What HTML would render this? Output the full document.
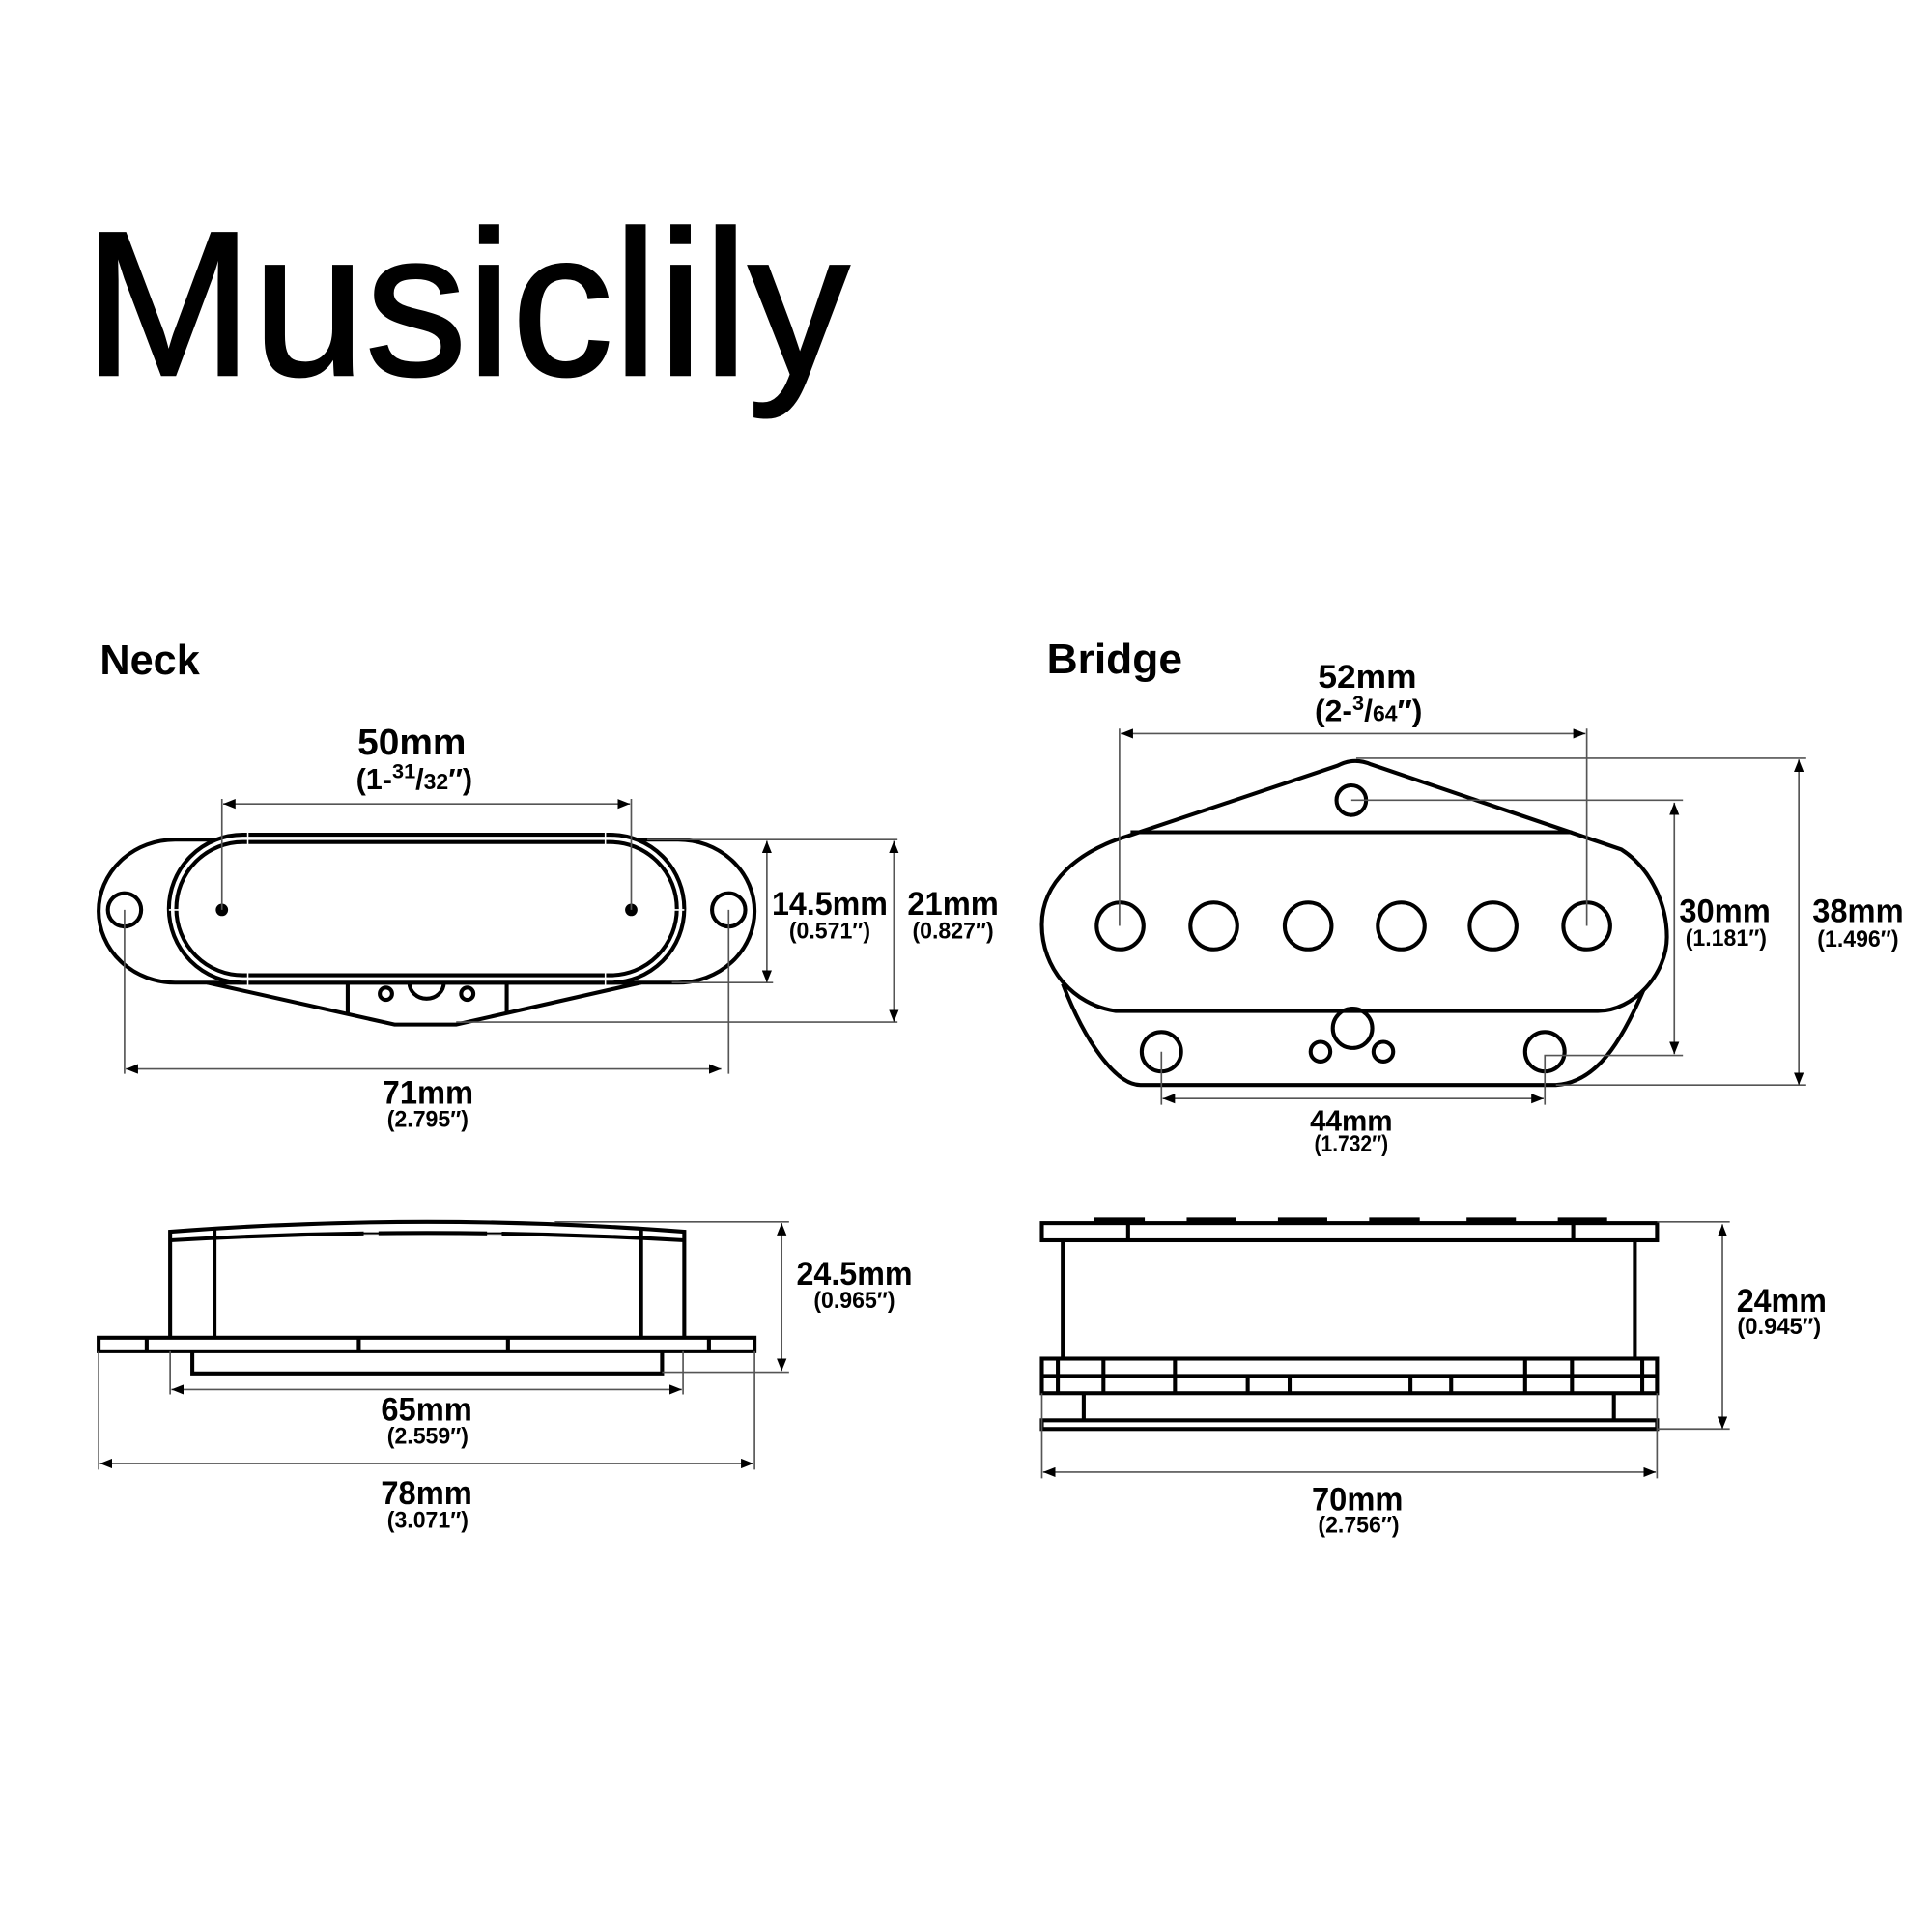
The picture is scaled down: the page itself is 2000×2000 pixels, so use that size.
<!DOCTYPE html>
<html><head><meta charset="utf-8"><title>Musiclily</title>
<style>html,body{margin:0;padding:0;background:#fff}svg{display:block}
text{font-family:"Liberation Sans",sans-serif;fill:#000;text-anchor:middle}
.a{font-weight:bold;font-size:27px}.b{font-weight:bold;font-size:19px}
.s{fill:none;stroke:#000;stroke-width:3.2}.d{stroke:#555;stroke-width:1.3;fill:none}
.n{fill:#fff;stroke:#000;stroke-width:3.2}</style></head>
<body>
<svg xmlns="http://www.w3.org/2000/svg" width="2000" height="2000" viewBox="0 0 1567 1567">
<defs><marker id="m" markerUnits="userSpaceOnUse" markerWidth="11" markerHeight="8" refX="10" refY="4" orient="auto-start-reverse"><path d="M0,0L10,4L0,8Z" fill="#000"/></marker></defs>
<rect width="1567" height="1567" fill="#fff"/>
<text x="68" y="304" style="text-anchor:start;font-size:167px;stroke:#000;stroke-width:2" textLength="621" lengthAdjust="spacingAndGlyphs">Musiclily</text>
<text x="81" y="547" style="text-anchor:start;font-weight:bold;font-size:34px" textLength="81" lengthAdjust="spacingAndGlyphs">Neck</text>
<text x="849" y="546" style="text-anchor:start;font-weight:bold;font-size:34px" textLength="110" lengthAdjust="spacingAndGlyphs">Bridge</text>

<!-- Neck top -->
<path class="n" d="M168,797L320,831L370,831L520,797Z"/>
<path class="s" d="M282,797V823M411,797V821"/>
<path class="s" d="M332,797A14,13 0 0 0 360,797"/>
<circle class="s" cx="313" cy="806" r="5"/><circle class="s" cx="379" cy="806" r="5"/>
<rect class="n" x="80" y="681" width="532" height="116" rx="62" ry="58"/>
<circle class="s" cx="101" cy="738" r="13.5"/><circle class="s" cx="591" cy="738" r="13.5"/>
<rect class="n" x="137" y="677" width="418" height="120" rx="60" ry="60"/>
<rect class="s" x="143" y="683" width="406" height="108" rx="54" ry="54"/>
<path d="M201,675v10M491,675v10M201,789v10M491,789v10M137,738h8M547,738h8" stroke="#fff" stroke-width="1.2"/>
<circle cx="180" cy="738" r="5"/><circle cx="512" cy="738" r="5"/>
<g class="d">
<path d="M180,648V738M512,648V738M101,738V871M591,738V871M525,681H728M545,797H627M370,829H728"/>
<line x1="181" y1="652" x2="511" y2="652" marker-start="url(#m)" marker-end="url(#m)"/>
<line x1="622" y1="682" x2="622" y2="797" marker-start="url(#m)" marker-end="url(#m)"/>
<line x1="725" y1="682" x2="725" y2="829" marker-start="url(#m)" marker-end="url(#m)"/>
<line x1="102" y1="867" x2="585" y2="867" marker-start="url(#m)" marker-end="url(#m)"/>
</g>
<text class="a" x="334" y="612" style="font-size:30px" textLength="88" lengthAdjust="spacingAndGlyphs">50mm</text>
<text class="b" x="336" y="640" style="font-size:24px">(1-<tspan font-size="17" dy="-9">31</tspan><tspan dy="9">/</tspan><tspan font-size="18">32</tspan>″)</text>
<text class="a" x="673" y="742" textLength="94" lengthAdjust="spacingAndGlyphs">14.5mm</text>
<text class="b" x="673" y="761" textLength="66" lengthAdjust="spacingAndGlyphs">(0.571″)</text>
<text class="a" x="773" y="742" textLength="74" lengthAdjust="spacingAndGlyphs">21mm</text>
<text class="b" x="773" y="761" textLength="66" lengthAdjust="spacingAndGlyphs">(0.827″)</text>
<text class="a" x="347" y="895" textLength="74" lengthAdjust="spacingAndGlyphs">71mm</text>
<text class="b" x="347" y="914" textLength="66" lengthAdjust="spacingAndGlyphs">(2.795″)</text>

<!-- Bridge top -->
<path class="s" d="M862,798C880,845 905,880 925,880L1262,880C1295,878 1315,845 1333,803"/>
<path class="n" d="M1085,621Q1098,614 1112,620L1315,689C1340,705 1352,735 1352,760C1352,790 1325,820 1296,820L905,820C870,815 845,785 845,750C845,715 875,690 915,678Z"/>
<path class="s" d="M917,675H1275"/>
<circle class="s" cx="1096" cy="649" r="12"/>
<g class="s"><circle cx="908.5" cy="751" r="19"/><circle cx="984.5" cy="751" r="19"/><circle cx="1061" cy="751" r="19"/><circle cx="1136.5" cy="751" r="19"/><circle cx="1211" cy="751" r="19"/><circle cx="1287" cy="751" r="19"/>
<circle cx="942" cy="853" r="16"/><circle cx="1253" cy="853" r="16"/><circle cx="1097" cy="834" r="16"/><circle cx="1071" cy="853" r="8"/><circle cx="1122" cy="853" r="8"/></g>
<g class="d">
<path d="M908,591V751M1287,591V751M1100,615H1465M1096,649H1365M1253,896V856H1365M1262,880H1465M942,853V896"/>
<line x1="909" y1="595" x2="1286" y2="595" marker-start="url(#m)" marker-end="url(#m)"/>
<line x1="1459" y1="616" x2="1459" y2="880" marker-start="url(#m)" marker-end="url(#m)"/>
<line x1="1358" y1="651" x2="1358" y2="855" marker-start="url(#m)" marker-end="url(#m)"/>
<line x1="943" y1="891" x2="1252" y2="891" marker-start="url(#m)" marker-end="url(#m)"/>
</g>
<text class="a" x="1109" y="558" textLength="80" lengthAdjust="spacingAndGlyphs">52mm</text>
<text class="b" x="1110" y="585" style="font-size:25px">(2-<tspan font-size="17" dy="-9">3</tspan><tspan dy="9">/</tspan><tspan font-size="18">64</tspan>″)</text>
<text class="a" x="1399" y="748" textLength="74" lengthAdjust="spacingAndGlyphs">30mm</text>
<text class="b" x="1400" y="767" textLength="66" lengthAdjust="spacingAndGlyphs">(1.181″)</text>
<text class="a" x="1507" y="748" textLength="74" lengthAdjust="spacingAndGlyphs">38mm</text>
<text class="b" x="1507" y="768" textLength="66" lengthAdjust="spacingAndGlyphs">(1.496″)</text>
<text class="a" x="1096" y="917" style="font-size:24px" textLength="67" lengthAdjust="spacingAndGlyphs">44mm</text>
<text class="b" x="1096" y="934" textLength="60" lengthAdjust="spacingAndGlyphs">(1.732″)</text>

<!-- Neck side -->
<path class="s" d="M138,1085V999Q346,983 555,999V1085"/>
<path class="s" d="M138,1006Q346,994 555,1006"/>
<path class="s" d="M174,1085V996M520,1085V996"/>
<rect class="s" x="80" y="1085" width="532" height="11"/>
<path class="s" d="M119,1085V1096M291,1085V1096M412,1085V1096M575,1085V1096"/>
<path class="s" d="M156,1096V1114H537V1096"/>
<path d="M295,999h12M295,1001.5h12M395,999h12M395,1001.5h12" stroke="#fff" stroke-width="0.9"/>
<g class="d">
<path d="M450,991H640M537,1113H640M138,1096V1131M554,1096V1131M80,1096V1192M612,1096V1192"/>
<line x1="634" y1="992" x2="634" y2="1112" marker-start="url(#m)" marker-end="url(#m)"/>
<line x1="139" y1="1127" x2="553" y2="1127" marker-start="url(#m)" marker-end="url(#m)"/>
<line x1="81" y1="1187" x2="611" y2="1187" marker-start="url(#m)" marker-end="url(#m)"/>
</g>
<text class="a" x="693" y="1042" textLength="94" lengthAdjust="spacingAndGlyphs">24.5mm</text>
<text class="b" x="693" y="1061" textLength="66" lengthAdjust="spacingAndGlyphs">(0.965″)</text>
<text class="a" x="346" y="1152" textLength="74" lengthAdjust="spacingAndGlyphs">65mm</text>
<text class="b" x="347" y="1171" textLength="66" lengthAdjust="spacingAndGlyphs">(2.559″)</text>
<text class="a" x="346" y="1220" textLength="74" lengthAdjust="spacingAndGlyphs">78mm</text>
<text class="b" x="347" y="1239" textLength="66" lengthAdjust="spacingAndGlyphs">(3.071″)</text>

<!-- Bridge side -->
<path d="M888,988h40v3h-40zM963,988h39v3h-39zM1037,988h39v3h-39zM1111,988h40v3h-40zM1190,988h39v3h-39zM1264,988h39v3h-39z" stroke="#000" stroke-width="1"/>
<rect class="s" x="845" y="992" width="499" height="14"/>
<path class="s" d="M915,992V1006M1276,992V1006M862,1006V1102M1326,1006V1102"/>
<rect class="s" x="845" y="1102" width="499" height="28"/>
<path class="s" d="M845,1116H1344M858,1102V1130M895,1102V1130M953,1102V1130M1237,1102V1130M1275,1102V1130M1332,1102V1130M1012,1116V1130M1046,1116V1130M1144,1116V1130M1177,1116V1130"/>
<path class="s" d="M879,1130V1151M1309,1130V1151"/>
<rect class="s" x="845" y="1152" width="499" height="7"/>
<g class="d">
<path d="M1344,991H1403M1344,1159H1403M845,1130V1199M1344,1130V1199"/>
<line x1="1397" y1="993" x2="1397" y2="1159" marker-start="url(#m)" marker-end="url(#m)"/>
<line x1="846" y1="1194" x2="1343" y2="1194" marker-start="url(#m)" marker-end="url(#m)"/>
</g>
<text class="a" x="1445" y="1064" textLength="73" lengthAdjust="spacingAndGlyphs">24mm</text>
<text class="b" x="1443" y="1082" textLength="68" lengthAdjust="spacingAndGlyphs">(0.945″)</text>
<text class="a" x="1101" y="1225" textLength="74" lengthAdjust="spacingAndGlyphs">70mm</text>
<text class="b" x="1102" y="1243" textLength="66" lengthAdjust="spacingAndGlyphs">(2.756″)</text>
</svg>
</body></html>
